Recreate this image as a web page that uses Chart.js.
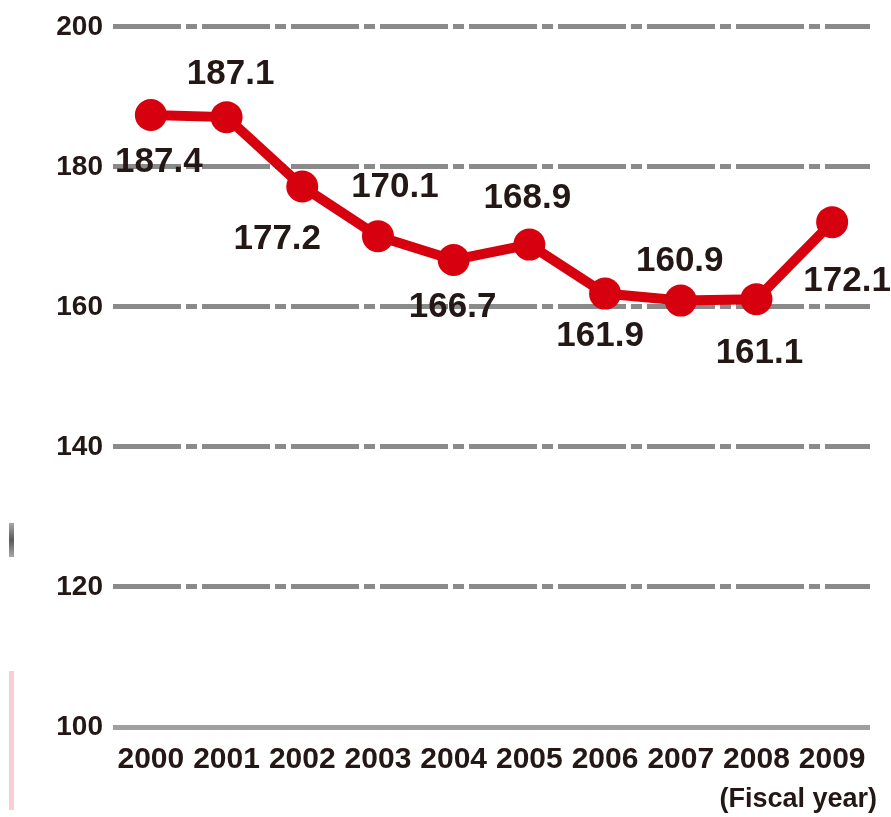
<!DOCTYPE html>
<html>
<head>
<meta charset="utf-8">
<script src="https://cdn.jsdelivr.net/npm/chart.js@4"></script>
<style>
  html, body { margin: 0; padding: 0; background: #fff; }
  #wrap { position: relative; width: 891px; height: 817px; }
  .mark { position: absolute; left: 9px; width: 5px; }
</style>
</head>
<body>
<div id="wrap">
  <canvas id="chart"></canvas>
  <div class="mark" style="top:523px;height:34px;background:linear-gradient(#a8a8a8,#5a5a5a,#a8a8a8);"></div>
  <div class="mark" style="top:671px;height:139px;background:#f8cdd5;"></div>
</div>
<script>
const years = ["2000", "2001", "2002", "2003", "2004", "2005", "2006", "2007", "2008", "2009"];
const values = [187.4, 187.1, 177.2, 170.1, 166.7, 168.9, 161.9, 160.9, 161.1, 172.1];
const yTicks = [100, 120, 140, 160, 180, 200];
const xUnit = "(Fiscal year)";

const RED = "#d7000f";
const TEXT = "#231815";
const FONT = "'Liberation Sans', Arial, sans-serif";

// where each value label sits relative to its point (px)
const labelOffsets = [
  [8, 47], [4, -43], [-25, 53], [17, -49], [-1, 47],
  [-2, -46], [-5, 43], [-1, -39], [3, 54], [15, 59],
];

const valueLabels = {
  id: "valueLabels",
  afterDatasetsDraw(chart) {
    const ctx = chart.ctx;
    const meta = chart.getDatasetMeta(0);
    ctx.save();
    ctx.font = `bold 35px ${FONT}`;
    ctx.fillStyle = TEXT;
    ctx.textAlign = "center";
    ctx.textBaseline = "middle";
    meta.data.forEach((pt, i) => {
      const [dx, dy] = labelOffsets[i];
      ctx.fillText(values[i].toFixed(1), pt.x + dx, pt.y + dy);
    });
    // unit note under the year labels
    ctx.font = `bold 27px ${FONT}`;
    ctx.textAlign = "right";
    ctx.fillText(xUnit, 877, 800);
    ctx.restore();
  }
};

new Chart(document.getElementById("chart"), {
  type: "line",
  data: {
    labels: years,
    datasets: [{
      data: values,
      borderColor: RED,
      backgroundColor: RED,
      borderWidth: 10,
      pointRadius: 16,
      pointHoverRadius: 16,
      pointBackgroundColor: RED,
      pointBorderWidth: 0,
      tension: 0,
      clip: false,
    }]
  },
  options: {
    responsive: true,
    maintainAspectRatio: false,
    animation: false,
    layout: { padding: { top: 24, right: 21, left: 0, bottom: 0 } },
    plugins: { legend: { display: false }, tooltip: { enabled: false } },
    scales: {
      x: {
        offset: true,
        grid: { display: false },
        border: { display: false },
        ticks: {
          color: TEXT,
          font: { family: FONT, size: 30, weight: "bold" },
          padding: 7,
          maxRotation: 0,
          autoSkip: false,
        },
        afterFit(scale) { scale.height = 90; },
      },
      y: {
        min: 100,
        max: 200,
        afterBuildTicks(scale) { scale.ticks = yTicks.map(v => ({ value: v })); },
        grid: {
          drawTicks: false,
          lineWidth: 5,
          color: (c) => c.tick && c.tick.value === 100 ? "#a0a0a0" : "#8a8a8a",
        },
        border: {
          display: false,
          dash: (c) => c.tick && c.tick.value === 100 ? [] : [68, 5, 11, 5],
        },
        ticks: {
          color: TEXT,
          font: { family: FONT, size: 28, weight: "bold" },
          padding: 10,
        },
        afterFit(scale) { scale.width = 113; },
      }
    }
  },
  plugins: [valueLabels]
});
</script>
</body>
</html>
